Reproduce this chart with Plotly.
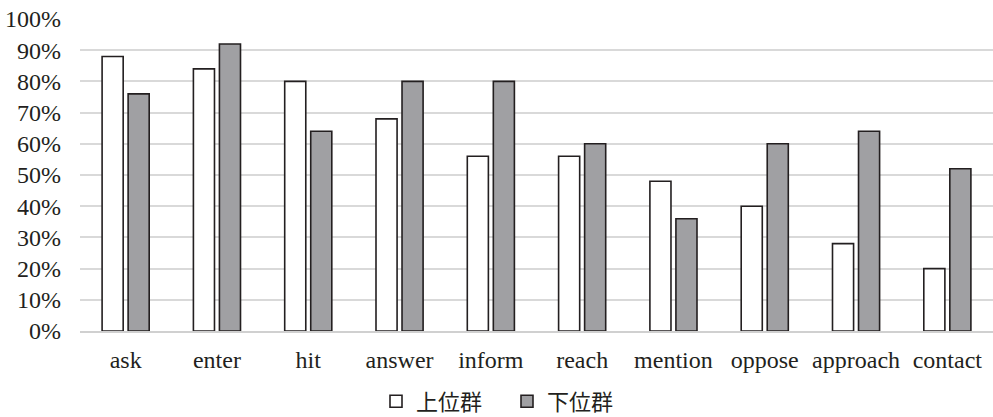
import plotly.graph_objects as go

categories = ["ask", "enter", "hit", "answer", "inform", "reach", "mention", "oppose", "approach", "contact"]
upper = [88, 84, 80, 68, 56, 56, 48, 40, 28, 20]
lower = [76, 92, 64, 80, 80, 60, 36, 60, 64, 52]
series_names = ["上位群", "下位群"]
tick_vals = [0, 10, 20, 30, 40, 50, 60, 70, 80, 90, 100]
tick_text = [f"{v}%" for v in tick_vals]

fig = go.Figure()
fig.add_trace(go.Bar(x=categories, y=upper, name=series_names[0],
                     marker=dict(color="#ffffff", line=dict(color="#231f20", width=1.6))))
fig.add_trace(go.Bar(x=categories, y=lower, name=series_names[1],
                     marker=dict(color="#a0a0a3", line=dict(color="#231f20", width=1.6))))

fig.update_layout(
    width=993, height=417,
    margin=dict(l=80, r=0, t=19, b=86, autoexpand=False),
    paper_bgcolor="white", plot_bgcolor="white",
    barmode="group", bargap=0.43, bargroupgap=0.19,
    font=dict(family="Liberation Serif", size=24, color="#231f20"),
    showlegend=True,
    legend=dict(orientation="h", xref="paper", yref="paper",
                x=(376 - 80) / 913, xanchor="left", y=-0.226, yanchor="middle",
                font=dict(family="Noto Sans CJK JP", size=22, color="#231f20"),
                itemwidth=30, entrywidth=86, entrywidthmode="pixels", tracegroupgap=0),
    xaxis=dict(showgrid=False, showline=True, linecolor="#d0d0d0", linewidth=1.5,
               ticks="", ticklabelstandoff=6, tickangle=0, automargin=False),
    yaxis=dict(range=[0, 100], tickvals=tick_vals, ticktext=tick_text,
               showgrid=True, gridcolor="#d9d9d9", gridwidth=1.5, automargin=False,
               zeroline=False, showline=False, ticks="", ticklabelstandoff=18),
)

fig.write_html("out.html", config={"displayModeBar": False},
               post_script="document.body.style.margin='0';document.body.style.overflow='hidden';")
